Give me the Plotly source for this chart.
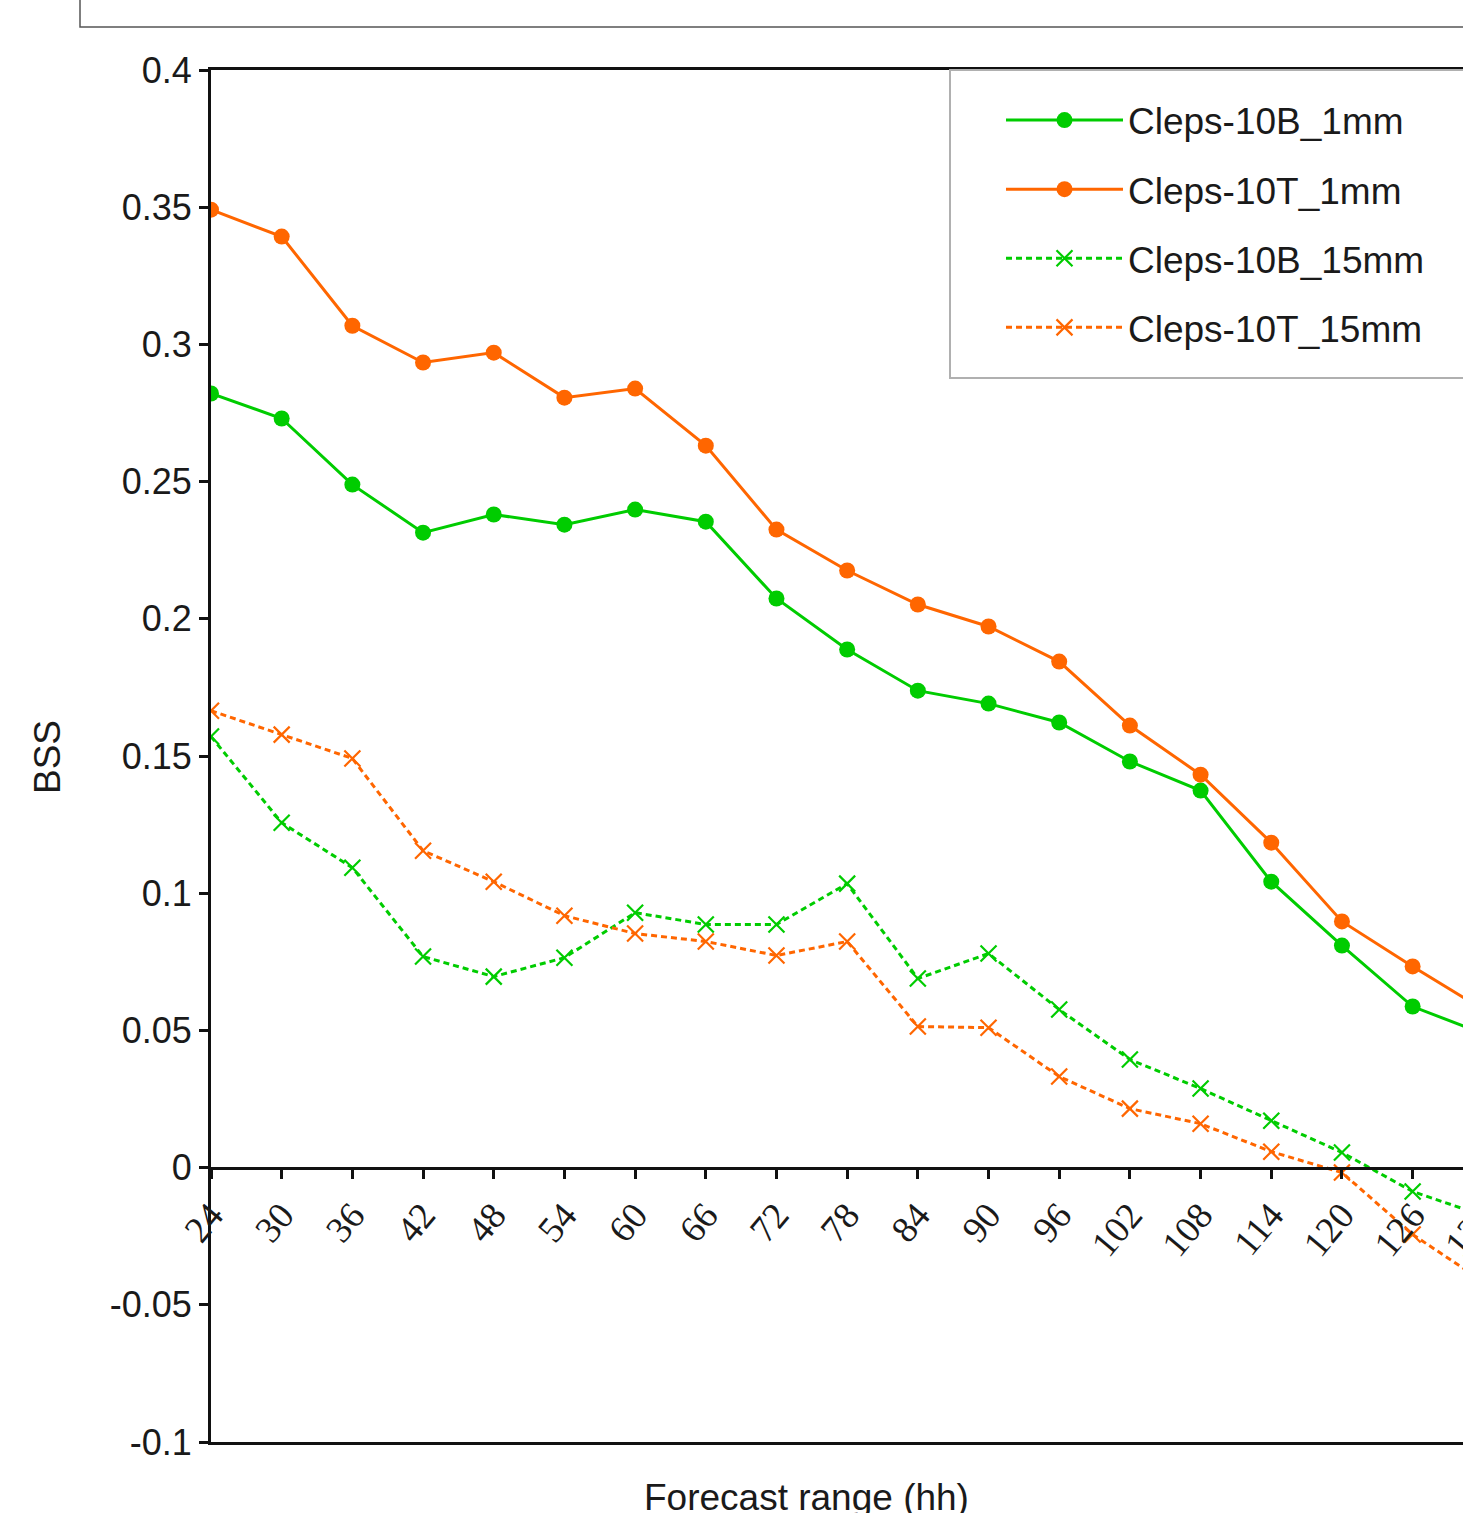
import plotly.graph_objects as go

hours = [24, 30, 36, 42, 48, 54, 60, 66, 72, 78, 84, 90, 96, 102, 108, 114, 120, 126, 132]

b_1mm = [0.2821, 0.2730, 0.2489, 0.2314, 0.2380, 0.2343, 0.2398, 0.2354, 0.2074, 0.1888,
         0.1738, 0.1691, 0.1622, 0.1480, 0.1374, 0.1042, 0.0809, 0.0587, 0.0488]
t_1mm = [0.3491, 0.3393, 0.3068, 0.2934, 0.2970, 0.2806, 0.2839, 0.2631, 0.2325, 0.2176,
         0.2052, 0.1972, 0.1844, 0.1611, 0.1432, 0.1184, 0.0897, 0.0733, 0.0576]
b_15mm = [0.1571, 0.1257, 0.1093, 0.0769, 0.0696, 0.0765, 0.0929, 0.0886, 0.0886, 0.1035,
          0.0689, 0.0780, 0.0576, 0.0394, 0.0288, 0.0171, 0.0055, -0.0087, -0.0175]
t_15mm = [0.1665, 0.1578, 0.1491, 0.1155, 0.1042, 0.0918, 0.0853, 0.0824, 0.0773, 0.0824,
          0.0514, 0.0510, 0.0332, 0.0215, 0.0160, 0.0058, -0.0018, -0.0244, -0.0415]

series_names = ["Cleps-10B_1mm", "Cleps-10T_1mm", "Cleps-10B_15mm", "Cleps-10T_15mm"]

y_ticks = [0.4, 0.35, 0.3, 0.25, 0.2, 0.15, 0.1, 0.05, 0, -0.05, -0.1]
y_ticktext = ["0.4", "0.35", "0.3", "0.25", "0.2", "0.15", "0.1", "0.05", "0", "-0.05", "-0.1"]
x_ticks = [24, 30, 36, 42, 48, 54, 60, 66, 72, 78, 84, 90, 96, 102, 108, 114, 120, 126, 132]

GREEN = "#00cc00"
ORANGE = "#ff6600"
TXT = "#1a1a1a"

W, H = 1600, 1513
L, T, B, R = 211, 70, 71, 46
pw = W - L - R
ph = H - T - B

fig = go.Figure()

fig.add_trace(go.Scatter(
    x=hours, y=b_1mm, name=series_names[0], mode="lines+markers", legendgroup="a",
    line=dict(color=GREEN, width=3), marker=dict(symbol="circle", size=16, color=GREEN),
    xaxis="x", yaxis="y"))
fig.add_trace(go.Scatter(
    x=hours, y=t_1mm, name=series_names[1], mode="lines+markers", legendgroup="b",
    line=dict(color=ORANGE, width=3), marker=dict(symbol="circle", size=16, color=ORANGE),
    xaxis="x", yaxis="y"))
fig.add_trace(go.Scatter(
    x=hours, y=b_15mm, name=series_names[2], mode="lines+markers", legendgroup="c",
    line=dict(color=GREEN, width=3, dash="6px,4px"),
    marker=dict(symbol="x-thin", size=16, color=GREEN, line=dict(color=GREEN, width=2.2)),
    xaxis="x2", yaxis="y"))
fig.add_trace(go.Scatter(
    x=hours, y=t_15mm, name=series_names[3], mode="lines+markers", legendgroup="d",
    line=dict(color=ORANGE, width=3, dash="6px,4px"),
    marker=dict(symbol="x-thin", size=16, color=ORANGE, line=dict(color=ORANGE, width=2.2)),
    xaxis="x2", yaxis="y"))

xr = [24, 138]
yr = [-0.1, 0.4]

fig.update_layout(
    width=W, height=H,
    margin=dict(l=L, r=R, t=T, b=B, pad=0),
    paper_bgcolor="white", plot_bgcolor="white",
    font=dict(family="Liberation Sans, Arial, sans-serif", size=37, color=TXT),
    showlegend=True,
    xaxis=dict(range=xr, showgrid=False, zeroline=False, showline=True, linecolor="#111",
               linewidth=3, mirror=True, ticks="", showticklabels=False, fixedrange=True),
    xaxis2=dict(range=xr, overlaying="x", anchor="free", position=(0 - yr[0]) / (yr[1] - yr[0]),
                side="bottom", showgrid=False, zeroline=False, showline=True, linecolor="#111",
                linewidth=3, ticks="outside", ticklen=9, tickwidth=3, tickcolor="#111",
                tickmode="array", tickvals=x_ticks, tickangle=-50,
                tickfont=dict(family="Liberation Serif, Times New Roman, serif", size=37, color=TXT)),
    yaxis=dict(range=yr, showgrid=False, zeroline=False, showline=True, linecolor="#111",
               linewidth=3, mirror=True, ticks="outside", ticklen=9, tickwidth=3, tickcolor="#111",
               tickmode="array", tickvals=y_ticks, ticktext=y_ticktext,
               tickfont=dict(size=36, color=TXT)),
    legend=dict(x=(1001 - L) / pw, y=1, xanchor="left", yanchor="top",
                bgcolor="rgba(0,0,0,0)", borderwidth=0,
                font=dict(size=37, color=TXT), itemwidth=117,
                tracegroupgap=18, traceorder="grouped",
                title=dict(text=" ", font=dict(size=15))),
    annotations=[
        dict(text="BSS", xref="paper", yref="paper", x=(47 - L) / pw, y=(H - B - 757) / ph,
             xanchor="center", yanchor="middle", textangle=-90, showarrow=False,
             font=dict(size=37, color=TXT)),
        dict(text="Forecast range (hh)", xref="paper", yref="paper", x=(806 - L) / pw,
             y=(H - B - 1497) / ph, xanchor="center", yanchor="middle", showarrow=False,
             font=dict(size=37, color=TXT)),
    ],
    shapes=[
        dict(type="rect", xref="paper", yref="paper", x0=(80 - L) / pw, x1=1.3,
             y0=(H - B - 27) / ph, y1=1.2, line=dict(color="#555", width=1.5),
             fillcolor="rgba(0,0,0,0)"),
        dict(type="rect", xref="paper", yref="paper", layer="above",
             x0=(950 - L) / pw, x1=1.3, y0=(H - B - 378) / ph, y1=1.0,
             line=dict(color="#b0b0b0", width=2), fillcolor="white"),
    ],
)

fig.write_html("out.html", config={"displayModeBar": False},
               post_script="document.body.style.margin='0';document.body.style.overflow='hidden';")
